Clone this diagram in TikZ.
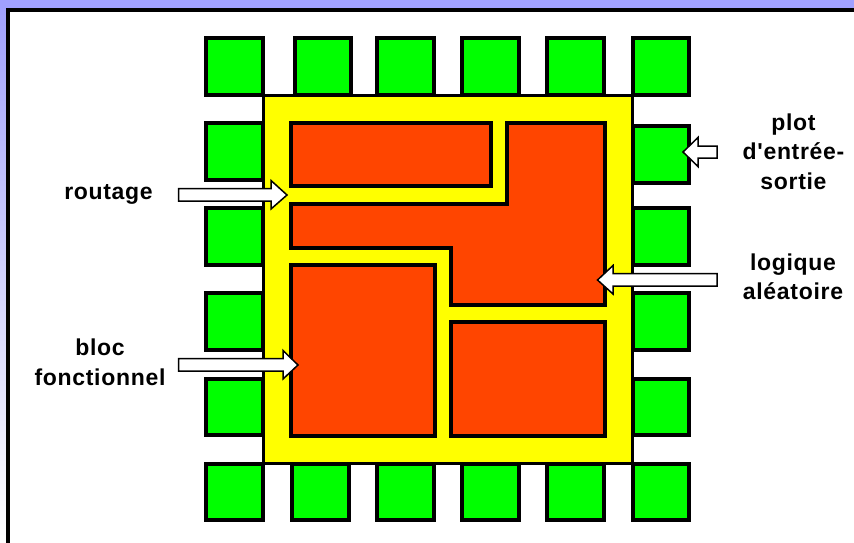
\documentclass[tikz,border=0pt]{standalone}
\usepackage{fontspec}
\setmainfont{Liberation Sans}
\newfontfamily\labfont[LetterSpace=3]{Liberation Sans}
\definecolor{peri}{RGB}{160,160,255}
\definecolor{padgreen}{RGB}{0,255,0}
\definecolor{coreyellow}{RGB}{255,255,0}
\definecolor{blockorange}{RGB}{255,69,0}
\tikzset{
  pad/.style={draw=black,line width=4pt,fill=padgreen},
  core/.style={draw=black,line width=3pt,fill=coreyellow},
  block/.style={draw=black,line width=4pt,fill=blockorange,line join=miter},
  pointer/.style={draw=black,line width=1.5pt,fill=white,line join=miter},
  lab/.style={font=\labfont\bfseries\fontsize{23}{29.5}\selectfont,align=center,inner sep=0pt,text=black}
}
\newcommand{\padbox}[4]{\draw[pad] (#1+2,#2+2) rectangle (#3-2,#4-2);}
\begin{document}
\begin{tikzpicture}[x=1pt,y=-1pt]
\useasboundingbox (0,0) rectangle (854,543);
% page background and frame
\fill[white] (0,0) rectangle (854,543);
\shade[top color=peri,bottom color=white] (0,0) rectangle (6,543);
\fill[peri] (0,0) rectangle (854,8);
\fill[black] (6,8) rectangle (854,12);
\fill[black] (6,8) rectangle (10,543);
% top pads
\padbox{204}{36}{265}{97}
\padbox{293}{36}{353}{97}
\padbox{375}{36}{436}{97}
\padbox{460}{36}{521}{97}
\padbox{545}{36}{606}{97}
\padbox{631}{36}{691}{97}
% left pads
\padbox{204}{121}{265}{182}
\padbox{204}{206}{265}{267}
\padbox{204}{291}{265}{352}
\padbox{204}{377}{265}{437}
% right pads
\padbox{631}{124}{691}{185}
\padbox{631}{206}{691}{267}
\padbox{631}{291}{691}{352}
\padbox{631}{377}{691}{437}
% bottom pads
\padbox{204}{462}{265}{522}
\padbox{290}{462}{351}{522}
\padbox{375}{462}{436}{522}
\padbox{460}{462}{521}{522}
\padbox{545}{462}{606}{522}
\padbox{631}{462}{691}{522}
% core
\draw[core] (263.5,95.5) rectangle (632.5,463);
% blocks
\draw[block] (291,123) rectangle (491,186);
\draw[block] (291,204) -- (507,204) -- (507,123) -- (605,123) -- (605,305) -- (451,305) -- (451,248) -- (291,248) -- cycle;
\draw[block] (291,265) rectangle (435,436);
\draw[block] (451,322) rectangle (605,436);
% pointers
\draw[pointer] (178.5,188.5) -- (271,188.5) -- (271,180.5) -- (287,195) -- (271,209) -- (271,201) -- (178.5,201) -- cycle;
\draw[pointer] (178.5,358.5) -- (283,358.5) -- (283,350.5) -- (298,365) -- (283,379) -- (283,371) -- (178.5,371) -- cycle;
\draw[pointer] (717,146) -- (698,146) -- (698,137.5) -- (683,152) -- (698,166.5) -- (698,158) -- (717,158) -- cycle;
\draw[pointer] (717,273.5) -- (613,273.5) -- (613,265.5) -- (597.5,280) -- (613,294) -- (613,286) -- (717,286) -- cycle;
% labels
\node[lab] (routage) at (108.5,194) {routage};
\node[lab] (bloc) at (100,362.5) {bloc\\fonctionnel};
\node[lab] (plot) at (793.5,151.5) {plot\\d'entrée-\\sortie};
\node[lab] (logique) at (793,277) {logique\\aléatoire};
\end{tikzpicture}
\end{document}
